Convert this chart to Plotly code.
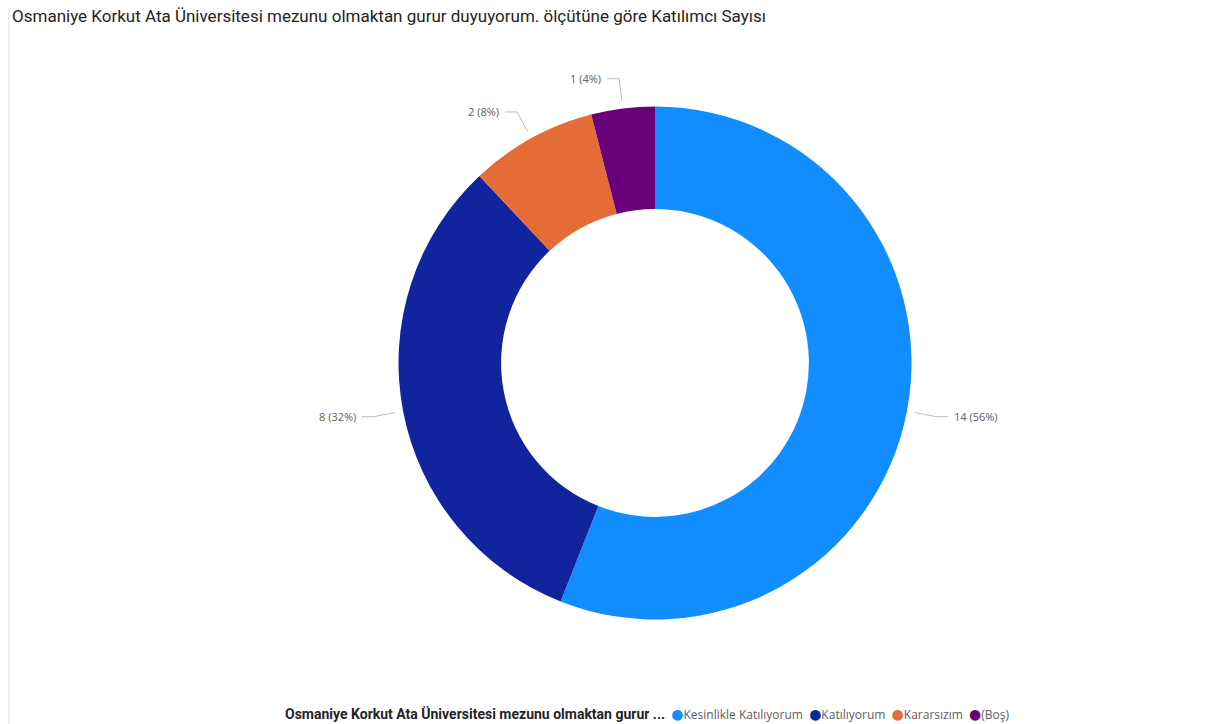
import math
import plotly.graph_objects as go

# ---- data ----
categories = ["Kesinlikle Katılıyorum", "Katılıyorum", "Kararsızım", "(Boş)"]
counts = [14, 8, 2, 1]
colors = ["#118DFF", "#12239E", "#E66C37", "#6B007B"]
title_text = "Osmaniye Korkut Ata Üniversitesi mezunu olmaktan gurur duyuyorum. ölçütüne göre Katılımcı Sayısı"
legend_title = "Osmaniye Korkut Ata Üniversitesi mezunu olmaktan gurur ..."

# ---- layout geometry ----
W, H = 1224, 724
cx, cy, R = 655, 363, 256.5
HOLE = 0.6

fig = go.Figure()
fig.add_trace(go.Pie(
    labels=categories, values=counts, marker=dict(colors=colors, line=dict(width=0)),
    hole=HOLE, sort=False, direction="clockwise", rotation=0,
    textinfo="none", hoverinfo="label+value+percent", showlegend=False,
    domain=dict(x=[(cx - R) / W, (cx + R) / W], y=[1 - (cy + R) / H, 1 - (cy - R) / H]),
))

# leader lines + labels computed from the data
total = sum(counts)
cum = 0
label_font = dict(family="Segoe UI, Open Sans, Noto Sans, sans-serif", size=11, color="#605E5C")
annotations = []
for v in counts:
    mid = (cum + v / 2) / total * 2 * math.pi
    cum += v
    s, c = math.sin(mid), math.cos(mid)
    x1, y1 = cx + (R + 8) * s, cy - (R + 8) * c
    x2, y2 = cx + (R + 30) * s, cy - (R + 30) * c
    side = 1 if s >= 0 else -1
    x3 = x2 + side * 12
    fig.add_trace(go.Scatter(x=[x1, x2, x3], y=[y1, y2, y2], mode="lines",
                             line=dict(color="#BEBBB8", width=1), hoverinfo="skip",
                             showlegend=False))
    pct = round(v / total * 100)
    annotations.append(dict(x=x3 + side * 4, y=y2, xref="x", yref="y",
                            text=f"{v} ({pct}%)", showarrow=False,
                            xanchor="left" if side > 0 else "right", yanchor="middle",
                            font=label_font))

# legend as one text line
legend_parts = [f"<span style='font-family:Roboto;font-weight:bold;font-size:14px;color:#252423'>{legend_title}</span>\u00a0 "]
for cat, col in zip(categories, colors):
    legend_parts.append(f"<span style='color:{col};font-size:14px;font-family:DejaVu Sans'>●</span>{cat}\u00a0 ")
annotations.append(dict(
    x=283, y=714, xref="x", yref="y", xanchor="left", yanchor="middle", showarrow=False,
    text="".join(legend_parts).rstrip("\u00a0 "),
    font=dict(family="Segoe UI, Open Sans, Noto Sans, sans-serif", size=12, color="#605E5C"),
))

fig.update_layout(
    width=W, height=H, margin=dict(l=0, r=0, t=0, b=0),
    paper_bgcolor="white", plot_bgcolor="white",
    title=dict(text=title_text, x=12 / W, xanchor="left", y=1 - 16 / H, yanchor="middle",
               font=dict(family="Roboto, Liberation Sans Narrow, sans-serif", size=17, color="#252423")),
    xaxis=dict(range=[0, W], visible=False, fixedrange=True),
    yaxis=dict(range=[H, 0], visible=False, fixedrange=True),
    annotations=annotations,
    shapes=[dict(type="line", xref="x", yref="y", x0=9, x1=9, y0=8, y1=H,
                 line=dict(color="#E1DFDD", width=1))],
    showlegend=False,
)

fig.write_html("out.html", config={"displayModeBar": False})
with open("out.html", encoding="utf-8") as f:
    html = f.read()
html = html.replace("<head>", "<head><style>html,body{margin:0;padding:0;overflow:hidden;}</style>", 1)
with open("out.html", "w", encoding="utf-8") as f:
    f.write(html)
